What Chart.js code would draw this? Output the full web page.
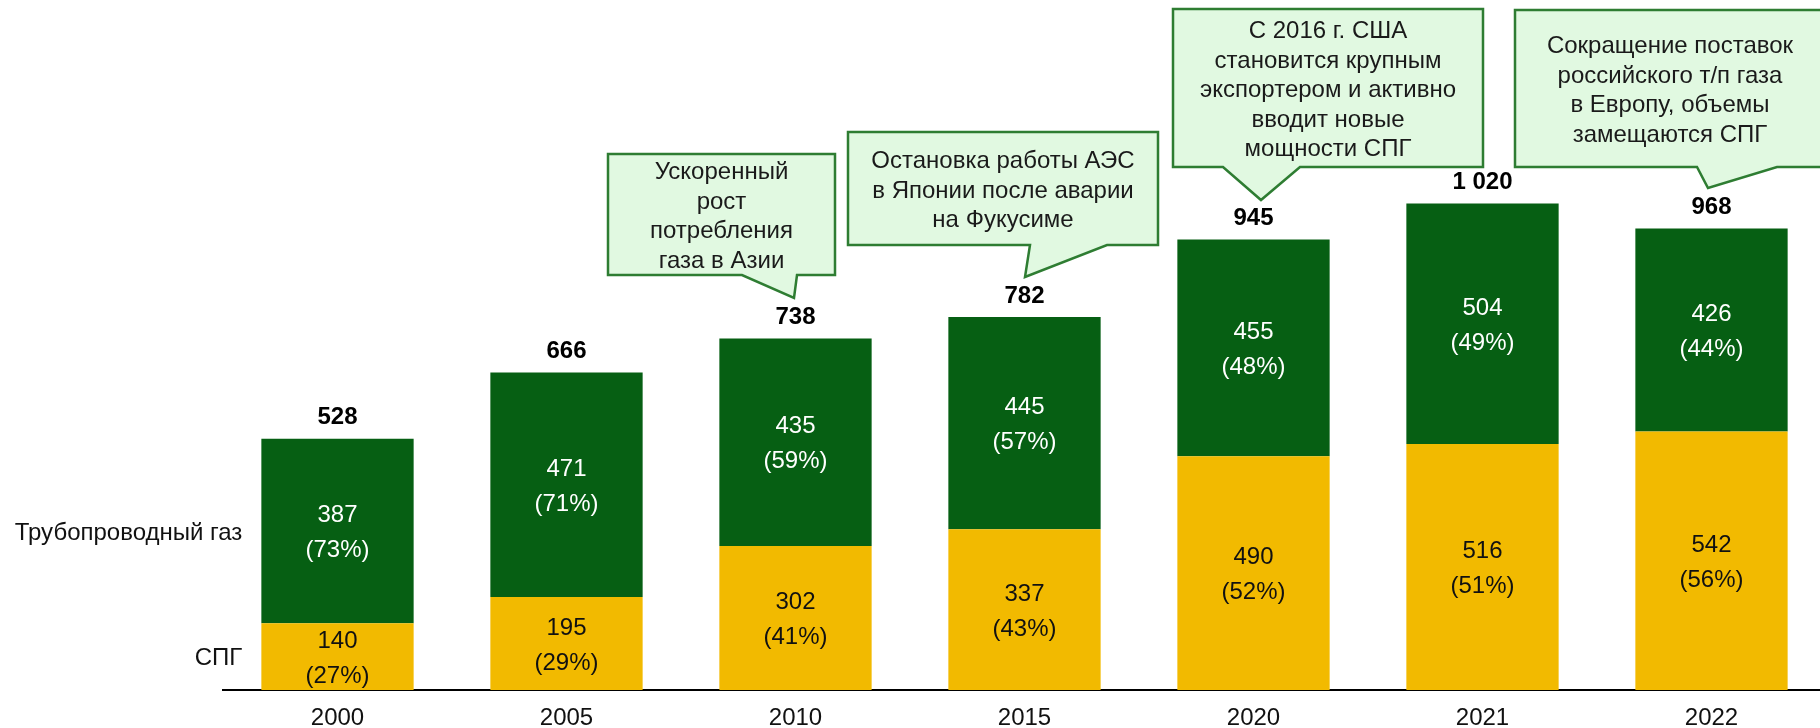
<!DOCTYPE html>
<html>
<head>
<meta charset="utf-8">
<script src="https://cdn.jsdelivr.net/npm/chart.js@4"></script>
<style>
  html, body { margin: 0; padding: 0; background: #fff; overflow: hidden; }
  #wrap { width: 1826px; height: 728px; position: relative; }
</style>
</head>
<body>
<div id="wrap"><canvas id="chart"></canvas></div>
<script>
// data
const years = ['2000', '2005', '2010', '2015', '2020', '2021', '2022'];
const lngValues = [140, 195, 302, 337, 490, 516, 542];
const pipeValues = [387, 471, 435, 445, 455, 504, 426];
const totals = [528, 666, 738, 782, 945, 1020, 968];
const lngShares = [27, 29, 41, 43, 52, 51, 56];
const pipeShares = [73, 71, 59, 57, 48, 49, 44];
const seriesNames = ['СПГ', 'Трубопроводный газ'];

const calloutTexts = [
  ['Ускоренный', 'рост', 'потребления', 'газа в Азии'],
  ['Остановка работы АЭС', 'в Японии после аварии', 'на Фукусиме'],
  ['С 2016 г. США', 'становится крупным', 'экспортером и активно', 'вводит новые', 'мощности СПГ'],
  ['Сокращение поставок', 'российского т/п газа', 'в Европу, объемы', 'замещаются СПГ']
];

// callout shapes (annotation layout, pixels): box, tail base left/right, tail tip
const calloutBoxes = [
  { l: 608, t: 154, r: 835, b: 275, bl: 742, br: 797, tip: [794, 298] },
  { l: 848, t: 132, r: 1158, b: 245, bl: 1030, br: 1107, tip: [1025, 277] },
  { l: 1173, t: 9, r: 1483, b: 167, bl: 1223, br: 1300, tip: [1261, 200] },
  { l: 1515, t: 10, r: 1832, b: 167, bl: 1697, br: 1777, tip: [1708, 188] }
];

const FONT = '"Liberation Sans", Arial, sans-serif';
const GREEN = '#065F13';
const YELLOW = '#F2BA00';

function fmt(n) {
  return String(n).replace(/\B(?=(\d{3})+(?!\d))/g, ' ');
}

// value labels, totals and series names
const labelPlugin = {
  id: 'labelPlugin',
  afterDatasetsDraw(chart) {
    const ctx = chart.ctx;
    const lngMeta = chart.getDatasetMeta(0);
    const pipeMeta = chart.getDatasetMeta(1);
    ctx.save();
    ctx.textAlign = 'center';
    ctx.textBaseline = 'middle';
    ctx.font = '24px ' + FONT;

    lngMeta.data.forEach((bar, i) => {
      const mid = (bar.y + bar.base) / 2 + 2;
      ctx.fillStyle = '#111';
      ctx.fillText(String(lngValues[i]), bar.x, mid - 17.5);
      ctx.fillText('(' + lngShares[i] + '%)', bar.x, mid + 17.5);
    });
    pipeMeta.data.forEach((bar, i) => {
      const mid = (bar.y + bar.base) / 2 + 2;
      ctx.fillStyle = '#fff';
      ctx.fillText(String(pipeValues[i]), bar.x, mid - 17.5);
      ctx.fillText('(' + pipeShares[i] + '%)', bar.x, mid + 17.5);
    });

    // totals on top
    ctx.font = 'bold 24px ' + FONT;
    ctx.fillStyle = '#000';
    pipeMeta.data.forEach((bar, i) => {
      ctx.fillText(fmt(totals[i]), bar.x, bar.y - 21);
    });

    // series names left of the first bar
    ctx.font = '24px ' + FONT;
    ctx.fillStyle = '#111';
    ctx.textAlign = 'right';
    const b0 = lngMeta.data[0];
    const p0 = pipeMeta.data[0];
    const xr = b0.x - b0.width / 2 - 19;
    ctx.fillText(seriesNames[0], xr, (b0.y + b0.base) / 2 + 2);
    ctx.fillText(seriesNames[1], xr, (p0.y + p0.base) / 2 + 2);
    ctx.restore();
  }
};

// speech bubble callouts
const calloutPlugin = {
  id: 'calloutPlugin',
  afterDraw(chart) {
    const ctx = chart.ctx;
    ctx.save();
    calloutBoxes.forEach((c, k) => {
      ctx.beginPath();
      ctx.moveTo(c.l, c.t);
      ctx.lineTo(c.r, c.t);
      ctx.lineTo(c.r, c.b);
      ctx.lineTo(c.br, c.b);
      ctx.lineTo(c.tip[0], c.tip[1]);
      ctx.lineTo(c.bl, c.b);
      ctx.lineTo(c.l, c.b);
      ctx.closePath();
      ctx.fillStyle = '#E1F9E1';
      ctx.fill();
      ctx.lineWidth = 2.5;
      ctx.strokeStyle = '#2E7D32';
      ctx.lineJoin = 'miter';
      ctx.stroke();

      const lines = calloutTexts[k];
      const lh = 29.5;
      const cx = (c.l + Math.min(c.r, 1825)) / 2;
      const cy = (c.t + c.b) / 2 + 2.5;
      ctx.font = '24px ' + FONT;
      ctx.fillStyle = '#1a1a1a';
      ctx.textAlign = 'center';
      ctx.textBaseline = 'middle';
      lines.forEach((s, j) => {
        ctx.fillText(s, cx, cy + (j - (lines.length - 1) / 2) * lh);
      });
    });
    ctx.restore();
  }
};

document.addEventListener('DOMContentLoaded', function () {
  const ctx = document.getElementById('chart').getContext('2d');

  new Chart(ctx, {
    type: 'bar',
    data: {
      labels: years,
      datasets: [
        {
          label: seriesNames[0],
          data: lngValues,
          backgroundColor: YELLOW,
          borderWidth: 0,
          categoryPercentage: 1,
          barPercentage: 0.665
        },
        {
          label: seriesNames[1],
          data: pipeValues,
          backgroundColor: GREEN,
          borderWidth: 0,
          categoryPercentage: 1,
          barPercentage: 0.665
        }
      ]
    },
    options: {
      responsive: true,
      maintainAspectRatio: false,
      animation: false,
      layout: { padding: { left: 223, right: 0, top: 0, bottom: 0 } },
      plugins: {
        legend: { display: false },
        tooltip: { enabled: false }
      },
      scales: {
        x: {
          stacked: true,
          grid: { display: false, drawTicks: false },
          border: { display: true, color: '#000', width: 2 },
          ticks: {
            color: '#111',
            padding: 14,
            font: { family: FONT, size: 24 }
          },
          afterFit(scale) {
            scale.height = 38;
          }
        },
        y: {
          stacked: true,
          display: false,
          min: 0,
          max: 1447
        }
      }
    },
    plugins: [labelPlugin, calloutPlugin]
  });
});
</script>
</body>
</html>
